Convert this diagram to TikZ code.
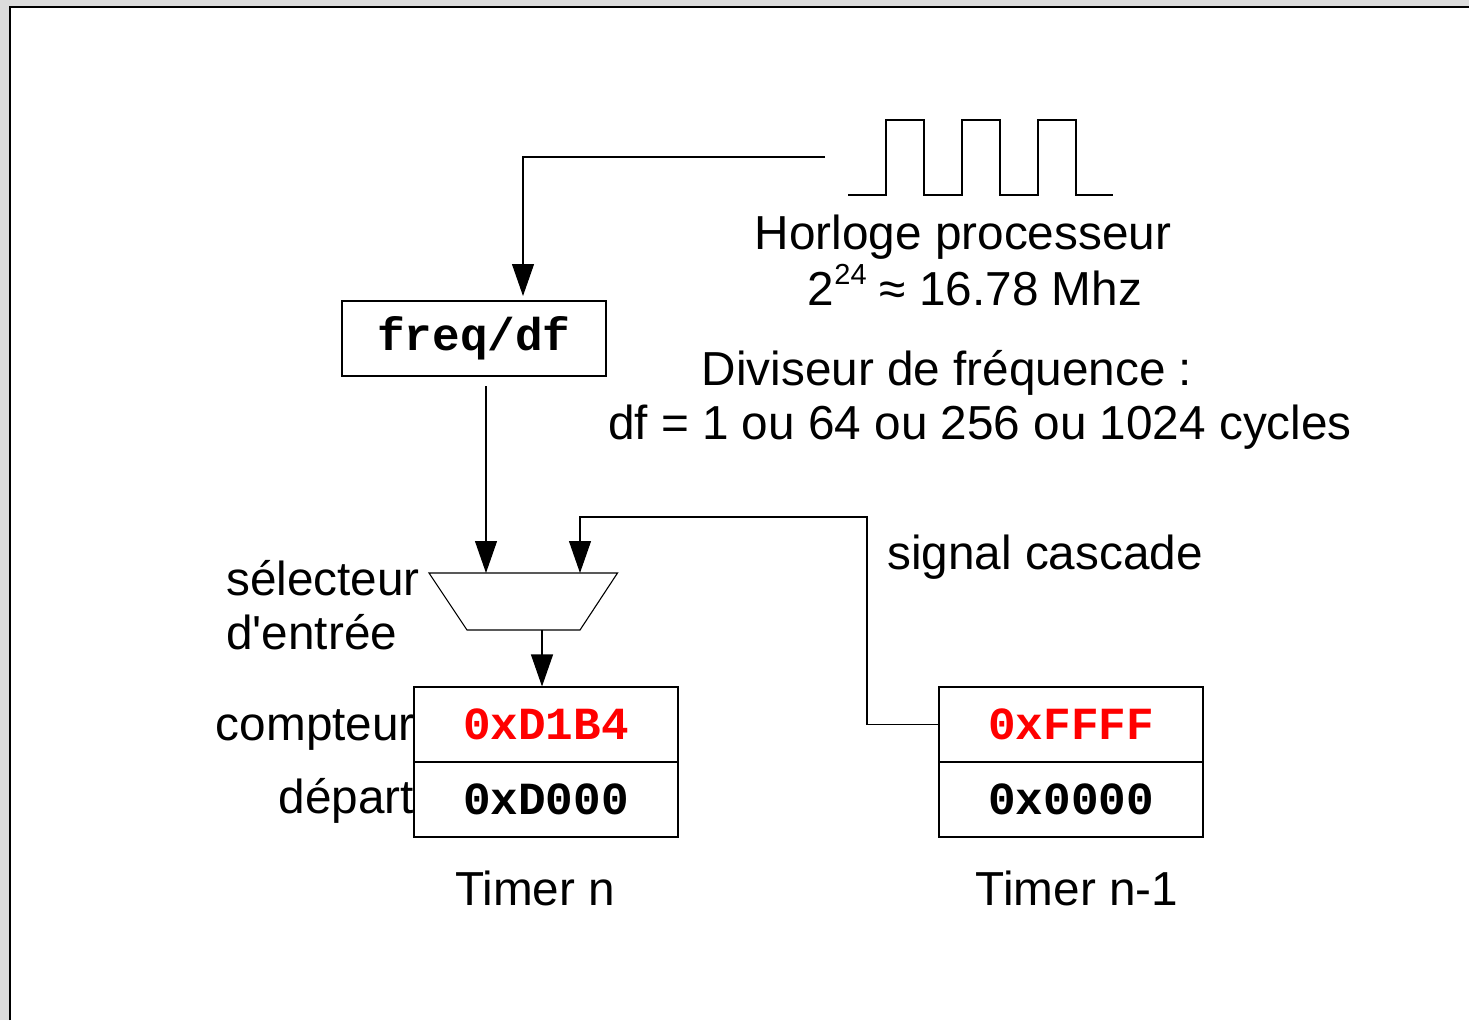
\documentclass[tikz,border=0pt]{standalone}
\usepackage{fontspec}
\setmainfont{Liberation Sans}
\setmonofont{Liberation Mono}
% family without TeX ligature mapping, so that ' stays a straight quote
\newfontfamily\labelsans{Liberation Sans}
\usetikzlibrary{arrows.meta}
\definecolor{pagegray}{HTML}{DCDCDC}
\definecolor{hexred}{HTML}{FF0000}
\tikzset{
  wire/.style={line width=1.1pt, black},
  arr/.style={wire, -{Triangle[length=32pt,width=22pt]}},
  regbox/.style={draw, line width=1.1pt, minimum width=264pt, minimum height=75pt, inner sep=0pt,
                 font=\fontsize{46}{50}\selectfont\ttfamily\bfseries},
  lbl/.style={inner sep=0pt, font=\labelsans\fontsize{47.7}{57}\selectfont},
}
\begin{document}
\begin{tikzpicture}[x=1pt,y=-1pt]
% page background and sheet
\fill[pagegray] (0,0) rectangle (1469,1020);
\useasboundingbox (0,0) rectangle (1469,1020);
\fill[white] (9.5,6.5) rectangle (1469,1020);
\draw[line width=2pt] (9.5,1020) -- (9.5,6.5) -- (1469,6.5);

% processor clock waveform
\draw[wire] (848,195) -- (886,195) -- (886,120) -- (924,120) -- (924,195)
  -- (962,195) -- (962,120) -- (1000,120) -- (1000,195)
  -- (1038,195) -- (1038,120) -- (1076,120) -- (1076,195) -- (1113,195);
\coordinate (clk) at (825,157);

\node[lbl, anchor=base] (horl) at (963,249) {Horloge processeur};
\node[lbl, anchor=base] (freqv) at (975,305) {2\raisebox{0.42em}{\fontsize{29}{30}\selectfont 24} ≈ 16.78 Mhz};
\node[lbl, anchor=base] (div1) at (947,385) {Diviseur de fréquence :};
\node[lbl, anchor=base] (div2) at (980,439) {df = 1 ou 64 ou 256 ou 1024 cycles};

% prescaler
\node[regbox] (freq) at (474,338.5) {freq/df};
\draw[arr] (clk) -- (523,157) -- (523,296);

% input selector (multiplexer)
\coordinate (muxTL) at (429,573);
\coordinate (muxTR) at (617.5,573);
\coordinate (muxBR) at (580,630);
\coordinate (muxBL) at (467,630);
\coordinate (muxA) at (486,573);
\coordinate (muxB) at (580,573);
\coordinate (muxOut) at (542,630);
\draw[wire] (muxTL) -- (muxTR) -- (muxBR) -- (muxBL) -- cycle;
\node[lbl, anchor=base west] (sel1) at (226,595) {sélecteur};
\node[lbl, anchor=base west] (sel2) at (226,649) {d'entrée};

\draw[arr] (486,386) -- (muxA);

% timer n
\node[regbox, text=hexred] (cnt) at (546,724.5) {0xD1B4};
\node[regbox] (dep) at (546,799.5) {0xD000};
\node[lbl, anchor=base east] (lcnt) at (415,740) {compteur};
\node[lbl, anchor=base east] (ldep) at (414,813) {départ};
\node[lbl, anchor=base] (tn) at (535,905) {Timer n};
\draw[arr] (muxOut) -- (cnt.north -| muxOut);

% timer n-1
\node[regbox, text=hexred] (cnt2) at (1071,724.5) {0xFFFF};
\node[regbox] (dep2) at (1071,799.5) {0x0000};
\node[lbl, anchor=base] (tn1) at (1077,905) {Timer n-1};

% cascade signal
\draw[arr] (cnt2.west) -- (867,724.5) -- (867,517) -- (580,517) -- (muxB);
\node[lbl, anchor=base west] (casc) at (887,569) {signal cascade};
\end{tikzpicture}
\end{document}
